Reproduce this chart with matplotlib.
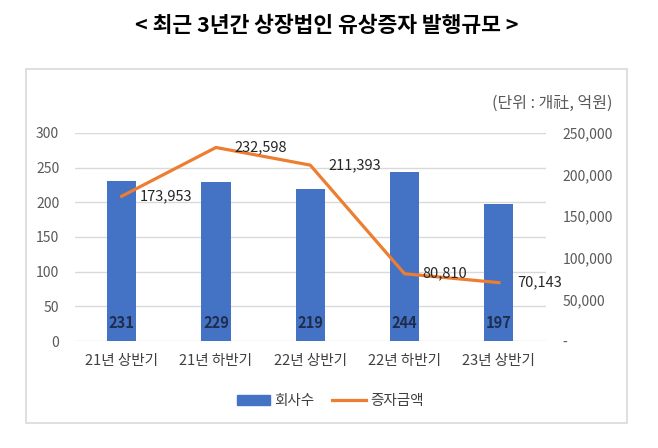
import matplotlib
matplotlib.use('Agg')
import matplotlib.pyplot as plt
from matplotlib.patches import Patch, Rectangle
from matplotlib.lines import Line2D
from matplotlib.ticker import FuncFormatter

plt.rcParams['font.family'] = ['Noto Sans CJK KR', 'DejaVu Sans']

# data
periods = ['21년 상반기', '21년 하반기', '22년 상반기', '22년 하반기', '23년 상반기']
companies = [231, 229, 219, 244, 197]
amounts = [173953, 232598, 211393, 80810, 70143]

title = '< 최근 3년간 상장법인 유상증자 발행규모 >'
unit_note = '(단위 : 개社, 억원)'

BLUE = '#4472C4'
ORANGE = '#ED7D31'
GRID = '#D9D9D9'
TICK = '#595959'

fig = plt.figure(figsize=(6.58, 4.48), dpi=100)

# outer chart frame
fig.patches.append(Rectangle((26 / 658, 1 - 423 / 448), 601 / 658, 354 / 448,
                             transform=fig.transFigure, fill=False,
                             edgecolor=GRID, linewidth=1.2))

ax = fig.add_axes([74.5 / 658, 1 - 341 / 448, 471.5 / 658, 208 / 448])
ax2 = ax.twinx()

x = list(range(len(periods)))
ax.bar(x, companies, width=0.31, color=BLUE, zorder=2)
ax.set_xlim(-0.5, len(periods) - 0.5)
ax.set_ylim(0, 300)
ax.set_yticks(range(0, 301, 50))
ax.set_axisbelow(True)
ax.yaxis.grid(True, color=GRID, linewidth=1)
ax.set_xticks(x)
ax.set_xticklabels(periods, fontsize=10.5, color='#404040')
ax.tick_params(axis='x', length=0, pad=9)
ax.tick_params(axis='y', length=0, pad=11, labelsize=10, labelcolor=TICK)

for i, v in enumerate(companies):
    ax.annotate(str(v), (i, 0), xytext=(0, 13), textcoords='offset points',
                ha='center', va='center', fontsize=10.5, fontweight='bold',
                color='#1F2D4D')

ax2.plot(x, amounts, color=ORANGE, linewidth=2.3, zorder=3)
ax2.set_ylim(0, 250000)
ax2.set_yticks(range(0, 250001, 50000))
ax2.yaxis.set_major_formatter(FuncFormatter(lambda v, p: '-' if v == 0 else f'{v:,.0f}'))
ax2.tick_params(axis='y', length=0, pad=12, labelsize=10, labelcolor=TICK)

for i, v in enumerate(amounts):
    ax2.annotate(f'{v:,}', (i, v), xytext=(13, 0), textcoords='offset points',
                 ha='left', va='center', fontsize=10.5, color='#262626')

for a in (ax, ax2):
    for s in a.spines.values():
        s.set_visible(False)

fig.text(327 / 658, 1 - 25 / 448, title, ha='center', va='center',
         fontsize=15.5, fontweight='bold', color='black')
fig.text(613 / 658, 1 - 103 / 448, unit_note, ha='right', va='center',
         fontsize=11.5, color=TICK)

handles = [Patch(color=BLUE), Line2D([0], [0], color=ORANGE, linewidth=2.3)]
fig.legend(handles, ['회사수', '증자금액'], loc='center',
           bbox_to_anchor=(330 / 658, 1 - 401 / 448), ncol=2, frameon=False,
           fontsize=10.5, handlelength=2.3, columnspacing=1.2, handletextpad=0.3,
           labelcolor='#404040')

fig.savefig('out.png', dpi=100)
